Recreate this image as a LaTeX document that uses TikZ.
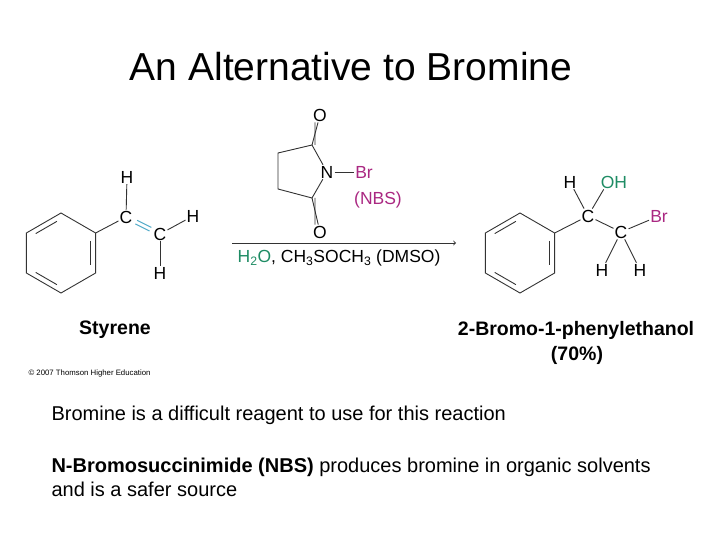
\documentclass[tikz,border=0pt]{standalone}
\usepackage{fontspec}
\usetikzlibrary{calc}
\setmainfont{Liberation Sans}
\definecolor{mag}{RGB}{170,40,130}
\definecolor{grn}{RGB}{30,140,100}
\definecolor{blu}{RGB}{80,170,200}
\begin{document}
\begin{tikzpicture}[x=1pt,y=-1pt,
  atom/.style={inner sep=1pt,font=\fontsize{17.5}{17.5}\selectfont},
  bd/.style={line width=0.9pt,black!80},
  lab/.style={font=\bfseries\fontsize{19.5}{19.5}\selectfont},
  body/.style={anchor=west,font=\fontsize{20}{24}\selectfont,align=left}]
\useasboundingbox[fill=white] (0,0) rectangle (720,540);
\node (title) at (351,67) {\fontsize{39}{39}\selectfont An Alternative to Bromine};
% styrene ring
\foreach \i/\a in {1/-90,2/-30,3/30,4/90,5/150,6/-150}
  \coordinate (s\i) at ($(61,253)+(\a:40)$);
\draw[bd] (s1)--(s2)--(s3)--(s4)--(s5)--(s6)--cycle;
\draw[bd] ($ (61,253)!0.83!(s6)!0.12!(s1) $) -- ($ (61,253)!0.83!(s1)!0.12!(s6) $);
\draw[bd] ($ (61,253)!0.83!(s2)!0.12!(s3) $) -- ($ (61,253)!0.83!(s3)!0.12!(s2) $);
\draw[bd] ($ (61,253)!0.83!(s4)!0.12!(s5) $) -- ($ (61,253)!0.83!(s5)!0.12!(s4) $);
\node[atom] (c1) at (126,217) {C};
\node[atom] (c2) at (160,234) {C};
\node[atom] (h1) at (127,177) {H};
\node[atom] (h2) at (193,216) {H};
\node[atom] (h3) at (160,273) {H};
\draw[bd] (s2)--(c1);
\draw[bd] (h1)--(c1); \draw[bd] (c2)--(h2); \draw[bd] (c2)--(h3);
\draw[blu,line width=0.9pt] ($(c1)!0.3!(c2)+(0.9,-1.8)$)--($(c1)!0.72!(c2)+(0.9,-1.8)$);
\draw[blu,line width=0.9pt] ($(c1)!0.3!(c2)+(-0.9,1.8)$)--($(c1)!0.72!(c2)+(-0.9,1.8)$);
\node[lab] (sty) at (115,330) {Styrene};
\node[font=\fontsize{7.8}{8}\selectfont,anchor=west] (copy) at (25,373) {\textcopyright{} 2007 Thomson Higher Education};
% NBS
\coordinate (ct) at (312,145); \coordinate (cb) at (312,198);
\coordinate (m1) at (278,153); \coordinate (m2) at (278,189);
\node[atom] (n) at (327,172) {N};
\node[atom] (o1) at (320,115) {O};
\node[atom] (o2) at (320,232) {O};
\node[atom,text=mag] (br) at (364,172) {Br};
\node[atom,text=mag] (nbs) at (378,200) {(NBS)};
\draw[bd] (n)--(ct)--(m1)--(m2)--(cb)--(n);
\draw[bd] (ct)--(o1); \draw[bd] ([xshift=3pt]ct)--([xshift=3pt]o1.south west);
\draw[bd] (cb)--(o2); \draw[bd] ([xshift=3pt]cb)--([xshift=3pt]o2.north west);
\draw[bd] (n)--(br);
\coordinate (a1) at (232,243); \coordinate (a2) at (456,243);
\draw[bd,->] (a1)--(a2);
\node[atom] (cond) at (339,258) {\textcolor{grn}{H\textsubscript{2}O}, CH\textsubscript{3}SOCH\textsubscript{3} (DMSO)};
% product
\foreach \i/\a in {1/-90,2/-30,3/30,4/90,5/150,6/-150}
  \coordinate (p\i) at ($(520,253)+(\a:40)$);
\draw[bd] (p1)--(p2)--(p3)--(p4)--(p5)--(p6)--cycle;
\draw[bd] ($ (520,253)!0.83!(p6)!0.12!(p1) $) -- ($ (520,253)!0.83!(p1)!0.12!(p6) $);
\draw[bd] ($ (520,253)!0.83!(p2)!0.12!(p3) $) -- ($ (520,253)!0.83!(p3)!0.12!(p2) $);
\draw[bd] ($ (520,253)!0.83!(p4)!0.12!(p5) $) -- ($ (520,253)!0.83!(p5)!0.12!(p4) $);
\node[atom] (d1) at (588,216) {C};
\node[atom] (d2) at (621,232) {C};
\node[atom] (hh) at (570,182) {H};
\node[atom,text=grn] (oh) at (614,182) {OH};
\node[atom,text=mag] (br2) at (659,216) {Br};
\node[atom] (hb1) at (602,270) {H};
\node[atom] (hb2) at (640,270) {H};
\draw[bd] (p2)--(d1); \draw[bd] (d1)--(d2);
\draw[bd] (hh)--(d1); \draw[bd] ([xshift=4pt]oh.south west)--(d1);
\draw[bd] (d2)--(br2); \draw[bd] (d2)--(hb1); \draw[bd] (d2)--(hb2);
\node[lab] (pn) at (576,330) {2-Bromo-1-phenylethanol};
\node[lab] (py) at (577,355) {(70\%)};
% text
\node[body] (t1) at (48,415) {Bromine is a difficult reagent to use for this reaction};
\node[body] (t2) at (48,477) {\textbf{N-Bromosuccinimide (NBS)} produces bromine in organic solvents\\and is a safer source};
\end{tikzpicture}
\end{document}
